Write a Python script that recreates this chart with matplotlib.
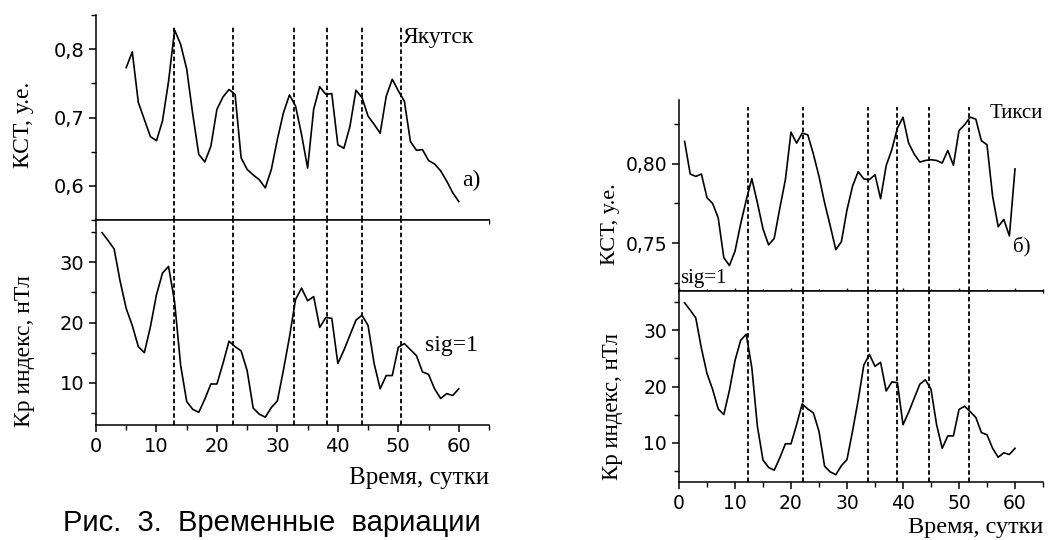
import numpy as np
import matplotlib.pyplot as plt
from matplotlib.ticker import MultipleLocator, FixedLocator, FixedFormatter

# --- data ---
days_yak = list(range(5, 61))
kst_yak = [0.773, 0.796, 0.722, 0.697, 0.672, 0.666, 0.695, 0.753, 0.828, 0.807,
           0.771, 0.705, 0.646, 0.635, 0.658, 0.712, 0.730, 0.741, 0.734, 0.641,
           0.624, 0.616, 0.609, 0.597, 0.624, 0.668, 0.707, 0.733, 0.717, 0.675,
           0.626, 0.712, 0.745, 0.734, 0.735, 0.660, 0.655, 0.687, 0.740, 0.729,
           0.702, 0.690, 0.677, 0.731, 0.756, 0.739, 0.724, 0.665, 0.652, 0.653,
           0.637, 0.632, 0.622, 0.607, 0.590, 0.577]

days_kp = list(range(1, 61))
kp = [34.9, 33.6, 32.2, 26.8, 22.3, 19.5, 16.0, 15.0, 19.3, 24.6,
      28.2, 29.3, 23.4, 12.9, 6.9, 5.6, 5.1, 7.3, 9.8, 9.8,
      13.2, 16.9, 16.0, 15.3, 12.0, 5.8, 4.8, 4.3, 5.9, 7.0,
      12.1, 17.6, 23.8, 25.7, 23.6, 24.3, 19.2, 20.8, 20.7, 13.2,
      15.4, 17.9, 20.4, 21.2, 19.5, 13.2, 9.0, 11.2, 11.2, 15.9,
      16.5, 15.5, 14.5, 11.8, 11.4, 9.0, 7.4, 8.2, 7.9, 9.0]

days_tik = list(range(1, 61))
kst_tik = [0.814, 0.7935, 0.792, 0.7935, 0.7786, 0.775, 0.766, 0.741, 0.736, 0.745,
           0.762, 0.777, 0.7906, 0.7754, 0.759, 0.749, 0.753, 0.772, 0.790, 0.8198,
           0.8129, 0.8192, 0.8181, 0.806, 0.792, 0.7754, 0.761, 0.746, 0.751, 0.771,
           0.786, 0.795, 0.7904, 0.790, 0.793, 0.778, 0.7988, 0.8088, 0.8223, 0.8292,
           0.813, 0.806, 0.801, 0.802, 0.8025, 0.802, 0.8004, 0.8083, 0.799, 0.8208,
           0.8244, 0.8292, 0.828, 0.8144, 0.8119, 0.7796, 0.7604, 0.765, 0.7546, 0.7967]

marks_yak = [12.9, 22.7, 32.7, 38.2, 44.0, 50.5]
marks_tik = [12.3, 22.1, 33.8, 39.0, 44.7, 51.8]

yak_ticks = [0.6, 0.7, 0.8]
yak_labels = ["0,6", "0,7", "0,8"]
tik_ticks = [0.75, 0.80]
tik_labels = ["0,75", "0,80"]
kp_ticks = [10, 20, 30]
x_ticks = [0, 10, 20, 30, 40, 50, 60]

SANS = "DejaVu Sans"
SERIF = "Liberation Serif"
LW = 1.2
DASH = (0, (2.5, 1.5))

fig = plt.figure(figsize=(10.63, 5.4), dpi=100)
W, H = 1063.0, 540.0


def box(x0, y0, x1, y1):
    return [x0 / W, 1 - y1 / H, (x1 - x0) / W, (y1 - y0) / H]


def style_top(ax, ticks, labels, minor, fs, xdir):
    for s in ("top", "right"):
        ax.spines[s].set_visible(False)
    for s in ("left", "bottom"):
        ax.spines[s].set_linewidth(1.1)
    ax.yaxis.set_major_locator(FixedLocator(ticks))
    ax.yaxis.set_major_formatter(FixedFormatter(labels))
    ax.yaxis.set_minor_locator(MultipleLocator(minor))
    ax.xaxis.set_major_locator(MultipleLocator(10))
    ax.xaxis.set_minor_locator(MultipleLocator(5))
    ax.tick_params(axis="y", which="major", direction="out", length=5, width=1.1,
                   labelsize=fs, labelfontfamily=SANS)
    ax.tick_params(axis="y", which="minor", direction="out", length=3.5, width=1.0)
    ax.tick_params(axis="x", which="major", direction=xdir, length=5, width=1.0,
                   labelbottom=False)
    ax.tick_params(axis="x", which="minor", direction=xdir, length=3, width=1.0)


def style_bottom(ax, fs):
    ax.spines["right"].set_visible(False)
    for s in ("left", "bottom", "top"):
        ax.spines[s].set_linewidth(1.1)
    ax.yaxis.set_major_locator(FixedLocator(kp_ticks))
    ax.yaxis.set_minor_locator(MultipleLocator(5))
    ax.xaxis.set_major_locator(FixedLocator(x_ticks))
    ax.xaxis.set_minor_locator(MultipleLocator(5))
    ax.tick_params(axis="both", which="major", direction="out", length=5, width=1.1,
                   labelsize=fs, labelfontfamily=SANS)
    ax.tick_params(axis="both", which="minor", direction="out", length=3.5, width=1.0)


# ---------- left panel: Якутск ----------
ax1 = fig.add_axes(box(96, 15, 489, 220))
ax1.plot(days_yak, kst_yak, color="k", lw=LW)
ax1.set_xlim(0, 65)
ax1.set_ylim(0.55, 0.85)
style_top(ax1, yak_ticks, yak_labels, 0.05, 14, "out")
for m in marks_yak:
    ax1.axvline(m, ymin=0, ymax=0.94, color="k", lw=1.3, ls=DASH)

ax2 = fig.add_axes(box(96, 220, 489, 425))
ax2.plot(days_kp, kp, color="k", lw=LW)
ax2.set_xlim(0, 65)
ax2.set_ylim(3, 37)
style_bottom(ax2, 14)
for m in marks_yak:
    ax2.axvline(m, color="k", lw=1.3, ls=DASH)

fig.text(23 / W, 1 - 125 / H, "КСТ, у.е.", rotation=90, ha="center", va="center",
         family=SERIF, fontsize=17)
fig.text(25 / W, 1 - 351 / H, "Кр индекс, нТл", rotation=90, ha="center", va="center",
         family=SERIF, fontsize=17)
fig.text(403 / W, 1 - 37 / H, "Якутск", ha="left", va="center", family=SERIF, fontsize=17)
fig.text(462 / W, 1 - 180 / H, "а)", ha="left", va="center", family=SERIF, fontsize=17)
fig.text(425 / W, 1 - 345 / H, "sig=1", ha="left", va="center", family=SERIF, fontsize=17)
fig.text(489 / W, 1 - 478 / H, "Время, сутки", ha="right", va="center", family=SERIF,
         fontsize=18)
# caption of the figure at the lower edge
fig.text(63 / W, 1 - 509 / H, "Рис.  3.  Временные  вариации", ha="left", va="top",
         family="Liberation Sans", fontsize=21)

# ---------- right panel: Тикси ----------
ax3 = fig.add_axes(box(679, 100, 1043, 291))
ax3.plot(days_tik, kst_tik, color="k", lw=LW)
ax3.set_xlim(0, 65)
ax3.set_ylim(0.72, 0.84)
style_top(ax3, tik_ticks, tik_labels, 0.025, 13.5, "inout")
for m in marks_tik:
    ax3.axvline(m, ymin=0, ymax=0.963, color="k", lw=1.3, ls=DASH)

ax4 = fig.add_axes(box(679, 291, 1043, 482))
ax4.plot(days_kp, kp, color="k", lw=LW)
ax4.set_xlim(0, 65)
ax4.set_ylim(3, 37)
style_bottom(ax4, 13.5)
for m in marks_tik:
    ax4.axvline(m, color="k", lw=1.3, ls=DASH)

fig.text(610 / W, 1 - 224 / H, "КСТ, у.е.", rotation=90, ha="center", va="center",
         family=SERIF, fontsize=16)
fig.text(612 / W, 1 - 406 / H, "Кр индекс, нТл", rotation=90, ha="center", va="center",
         family=SERIF, fontsize=16.5)
fig.text(990 / W, 1 - 113 / H, "Тикси", ha="left", va="center", family=SERIF, fontsize=15)
fig.text(1013 / W, 1 - 247 / H, "б)", ha="left", va="center", family=SERIF, fontsize=15)
fig.text(680 / W, 1 - 278 / H, "sig=1", ha="left", va="center", family=SERIF, fontsize=15)
fig.text(1043 / W, 1 - 528 / H, "Время, сутки", ha="right", va="center", family=SERIF,
         fontsize=17.5)

fig.savefig("out.png", dpi=100)
